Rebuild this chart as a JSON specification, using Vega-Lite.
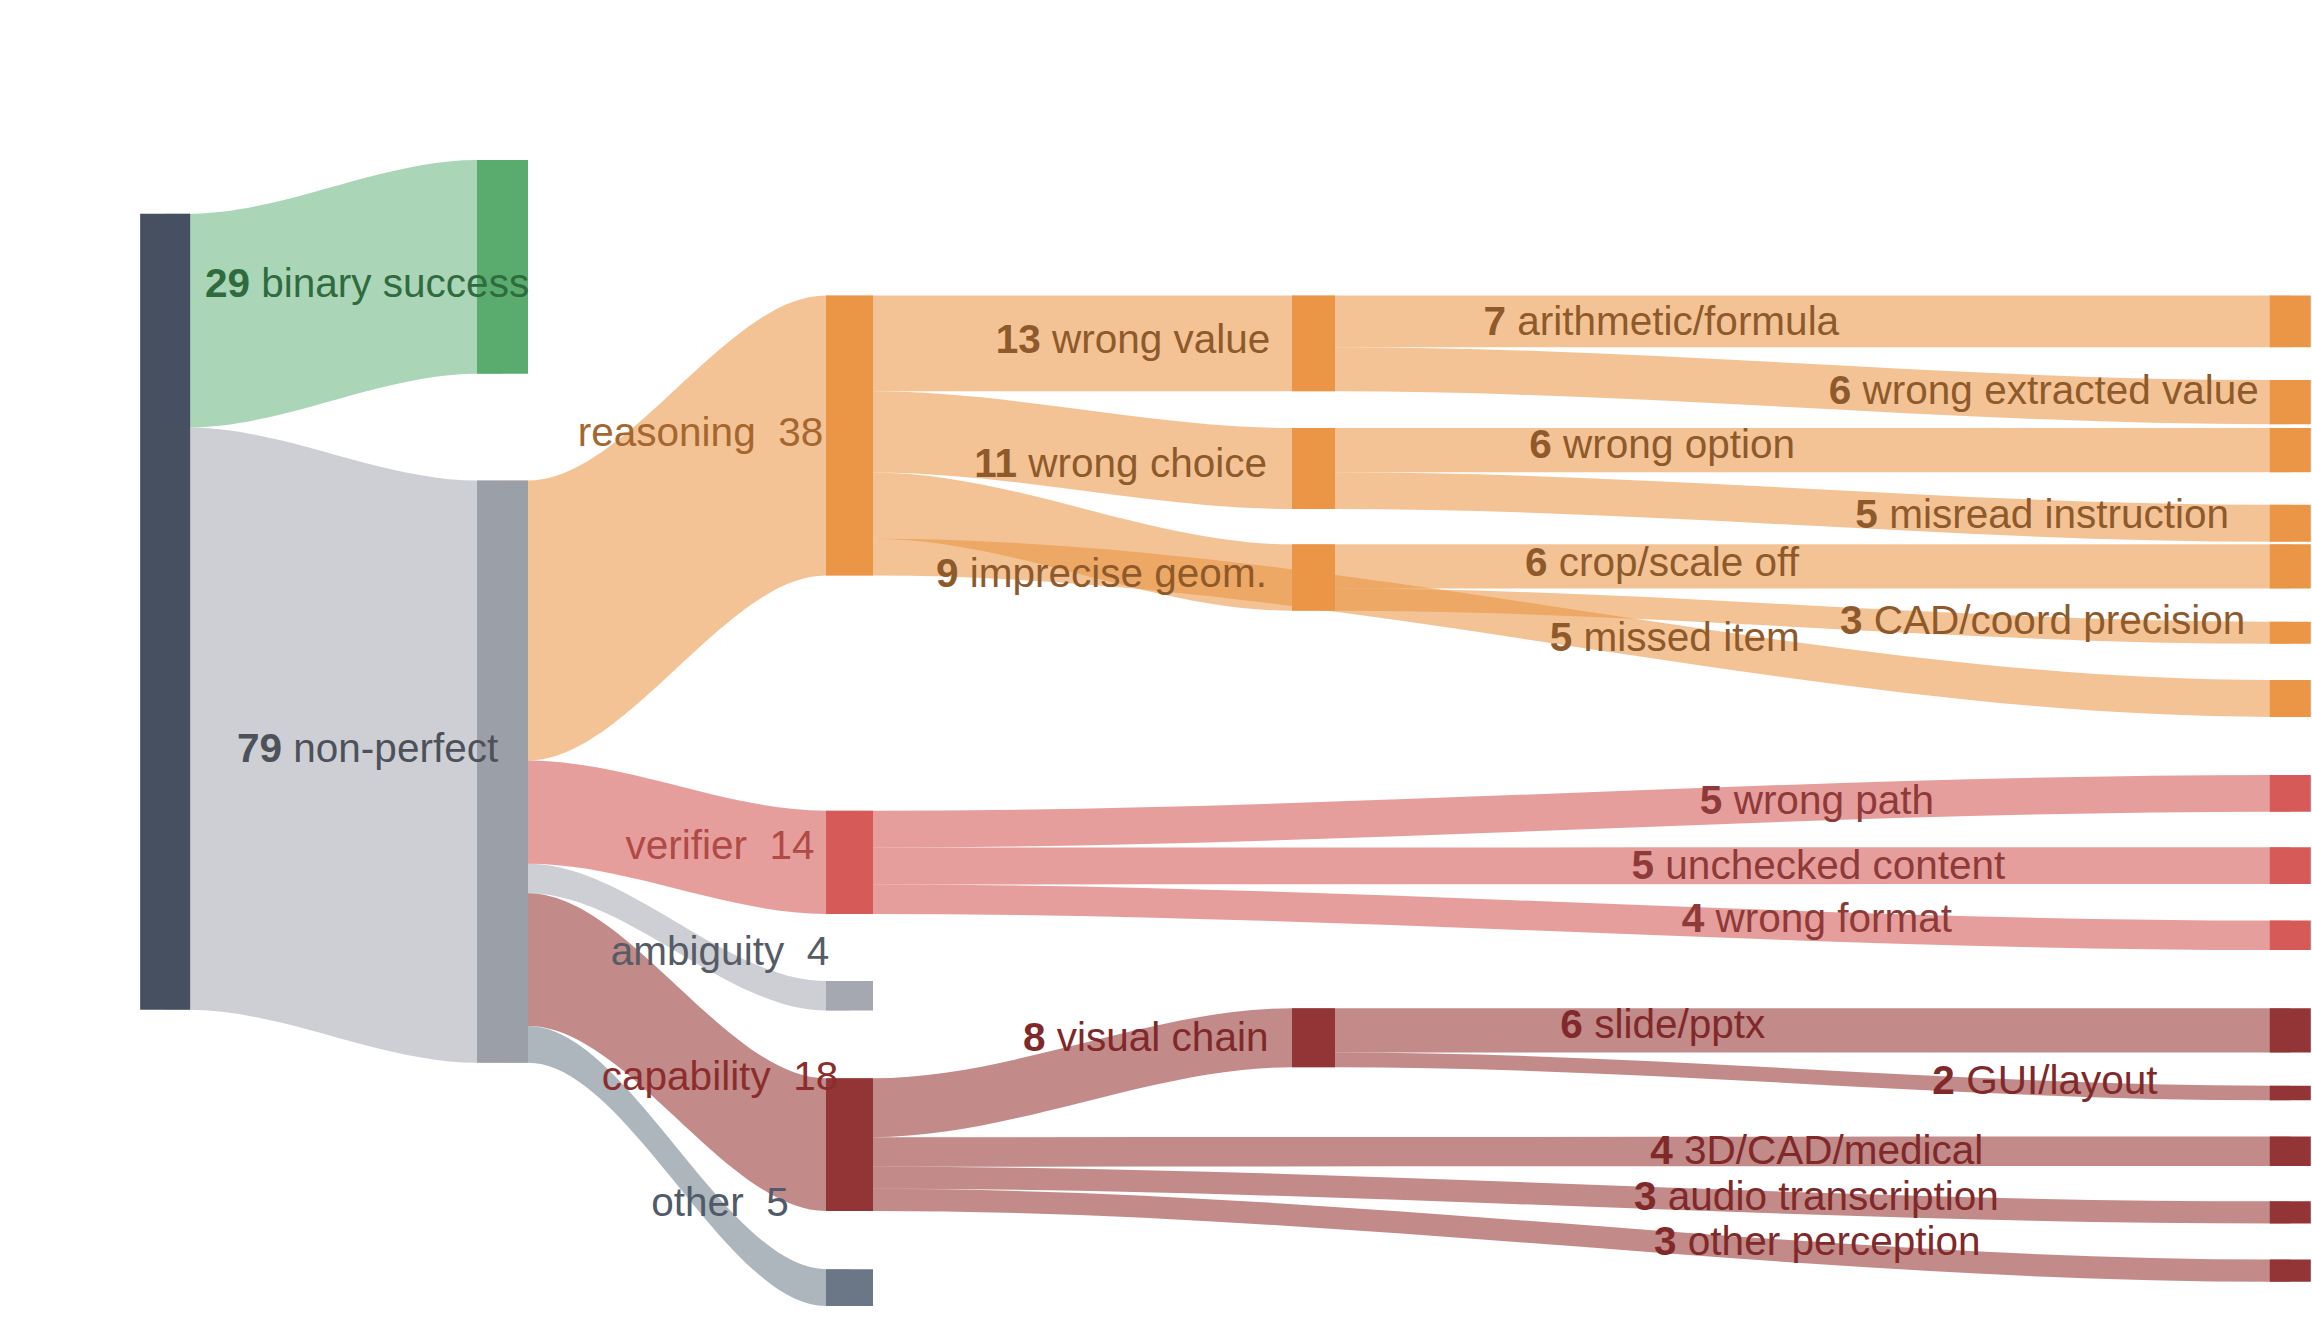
{
  "$schema": "https://vega.github.io/schema/vega-lite/v6.json",
  "width": 2312,
  "height": 1320,
  "autosize": {"type": "fit", "contains": "padding"},
  "padding": 0,
  "background": "white",
  "config": {
    "view": {"stroke": null},
    "text": {"font": "Liberation Sans", "fontSize": 40.5, "baseline": "alphabetic"}
  },
  "datasets": {
    "links": [
      {"link": "success", "group": "success", "col": [0, 0.1, 0.9, 1], "lo": [29, 29, 21.7, 21.7], "hi": [58, 58, 50.7, 50.7]},
      {"link": "nonperfect", "group": "nonperfect", "col": [0, 0.1, 0.9, 1], "lo": [58, 58, 65.2, 65.2], "hi": [137, 137, 144.2, 144.2]},
      {"link": "reasoning", "group": "reasoning", "col": [1, 1.1, 1.9, 2], "lo": [65.2, 65.2, 40.1, 40.1], "hi": [103.2, 103.2, 78.1, 78.1]},
      {"link": "verifier", "group": "verifier", "col": [1, 1.1, 1.9, 2], "lo": [103.2, 103.2, 110, 110], "hi": [117.2, 117.2, 124, 124]},
      {"link": "ambiguity", "group": "ambiguity", "col": [1, 1.1, 1.9, 2], "lo": [117.2, 117.2, 133.1, 133.1], "hi": [121.2, 121.2, 137.1, 137.1]},
      {"link": "capability", "group": "capability", "col": [1, 1.1, 1.9, 2], "lo": [121.2, 121.2, 146.3, 146.3], "hi": [139.2, 139.2, 164.3, 164.3]},
      {"link": "other", "group": "other", "col": [1, 1.1, 1.9, 2], "lo": [139.2, 139.2, 172.2, 172.2], "hi": [144.2, 144.2, 177.2, 177.2]},
      {"link": "wrong value", "group": "reasoning", "col": [2, 2.1, 2.9, 3], "lo": [40.1, 40.1, 40.1, 40.1], "hi": [53.1, 53.1, 53.1, 53.1]},
      {"link": "wrong choice", "group": "reasoning", "col": [2, 2.1, 2.9, 3], "lo": [53.1, 53.1, 58.07, 58.07], "hi": [64.1, 64.1, 69.07, 69.07]},
      {"link": "imprecise geom.", "group": "reasoning", "col": [2, 2.1, 2.9, 3], "lo": [64.1, 64.1, 73.86, 73.86], "hi": [73.1, 73.1, 82.86, 82.86]},
      {"link": "missed item", "group": "reasoning", "col": [2, 2.1, 3.9, 4], "lo": [73.1, 73.1, 92.27, 92.27], "hi": [78.1, 78.1, 97.27, 97.27]},
      {"link": "arithmetic/formula", "group": "reasoning", "col": [3, 3.1, 3.9, 4], "lo": [40.1, 40.1, 40.1, 40.1], "hi": [47.1, 47.1, 47.1, 47.1]},
      {"link": "wrong extracted value", "group": "reasoning", "col": [3, 3.1, 3.9, 4], "lo": [47.1, 47.1, 51.56, 51.56], "hi": [53.1, 53.1, 57.56, 57.56]},
      {"link": "wrong option", "group": "reasoning", "col": [3, 3.1, 3.9, 4], "lo": [58.07, 58.07, 58.07, 58.07], "hi": [64.07, 64.07, 64.07, 64.07]},
      {"link": "misread instruction", "group": "reasoning", "col": [3, 3.1, 3.9, 4], "lo": [64.07, 64.07, 68.5, 68.5], "hi": [69.07, 69.07, 73.5, 73.5]},
      {"link": "crop/scale off", "group": "reasoning", "col": [3, 3.1, 3.9, 4], "lo": [73.86, 73.86, 73.86, 73.86], "hi": [79.86, 79.86, 79.86, 79.86]},
      {"link": "CAD/coord precision", "group": "reasoning", "col": [3, 3.1, 3.9, 4], "lo": [79.86, 79.86, 84.35, 84.35], "hi": [82.86, 82.86, 87.35, 87.35]},
      {"link": "wrong path", "group": "verifier", "col": [2, 2.1, 3.9, 4], "lo": [110, 110, 105.14, 105.14], "hi": [115, 115, 110.14, 110.14]},
      {"link": "unchecked content", "group": "verifier", "col": [2, 2.1, 3.9, 4], "lo": [115, 115, 114.95, 114.95], "hi": [120, 120, 119.95, 119.95]},
      {"link": "wrong format", "group": "verifier", "col": [2, 2.1, 3.9, 4], "lo": [120, 120, 124.9, 124.9], "hi": [124, 124, 128.9, 128.9]},
      {"link": "visual chain", "group": "capability", "col": [2, 2.1, 2.9, 3], "lo": [146.3, 146.3, 136.8, 136.8], "hi": [154.3, 154.3, 144.8, 144.8]},
      {"link": "3D/CAD/medical", "group": "capability", "col": [2, 2.1, 3.9, 4], "lo": [154.3, 154.3, 154.2, 154.2], "hi": [158.3, 158.3, 158.2, 158.2]},
      {"link": "audio transcription", "group": "capability", "col": [2, 2.1, 3.9, 4], "lo": [158.3, 158.3, 163, 163], "hi": [161.3, 161.3, 166, 166]},
      {"link": "other perception", "group": "capability", "col": [2, 2.1, 3.9, 4], "lo": [161.3, 161.3, 170.9, 170.9], "hi": [164.3, 164.3, 173.9, 173.9]},
      {"link": "slide/pptx", "group": "capability", "col": [3, 3.1, 3.9, 4], "lo": [136.8, 136.8, 136.8, 136.8], "hi": [142.8, 142.8, 142.8, 142.8]},
      {"link": "GUI/layout", "group": "capability", "col": [3, 3.1, 3.9, 4], "lo": [142.8, 142.8, 147.3, 147.3], "hi": [144.8, 144.8, 149.3, 149.3]}
    ],
    "nodes": [
      {"node": "all", "group": "root", "col": 0, "y0": 29, "y1": 137},
      {"node": "binary success", "group": "success", "col": 1, "y0": 21.7, "y1": 50.7},
      {"node": "non-perfect", "group": "nonperfect", "col": 1, "y0": 65.2, "y1": 144.2},
      {"node": "reasoning", "group": "reasoning", "col": 2, "y0": 40.1, "y1": 78.1},
      {"node": "verifier", "group": "verifier", "col": 2, "y0": 110, "y1": 124},
      {"node": "ambiguity", "group": "ambiguity", "col": 2, "y0": 133.1, "y1": 137.1},
      {"node": "capability", "group": "capability", "col": 2, "y0": 146.3, "y1": 164.3},
      {"node": "other", "group": "other", "col": 2, "y0": 172.2, "y1": 177.2},
      {"node": "wrong value", "group": "reasoning", "col": 3, "y0": 40.1, "y1": 53.1},
      {"node": "wrong choice", "group": "reasoning", "col": 3, "y0": 58.07, "y1": 69.07},
      {"node": "imprecise geom.", "group": "reasoning", "col": 3, "y0": 73.86, "y1": 82.86},
      {"node": "visual chain", "group": "capability", "col": 3, "y0": 136.8, "y1": 144.8},
      {"node": "arithmetic/formula", "group": "reasoning", "col": 4, "y0": 40.1, "y1": 47.1},
      {"node": "wrong extracted value", "group": "reasoning", "col": 4, "y0": 51.56, "y1": 57.56},
      {"node": "wrong option", "group": "reasoning", "col": 4, "y0": 58.07, "y1": 64.07},
      {"node": "misread instruction", "group": "reasoning", "col": 4, "y0": 68.5, "y1": 73.5},
      {"node": "crop/scale off", "group": "reasoning", "col": 4, "y0": 73.86, "y1": 79.86},
      {"node": "CAD/coord precision", "group": "reasoning", "col": 4, "y0": 84.35, "y1": 87.35},
      {"node": "missed item", "group": "reasoning", "col": 4, "y0": 92.27, "y1": 97.27},
      {"node": "wrong path", "group": "verifier", "col": 4, "y0": 105.14, "y1": 110.14},
      {"node": "unchecked content", "group": "verifier", "col": 4, "y0": 114.95, "y1": 119.95},
      {"node": "wrong format", "group": "verifier", "col": 4, "y0": 124.9, "y1": 128.9},
      {"node": "slide/pptx", "group": "capability", "col": 4, "y0": 136.8, "y1": 142.8},
      {"node": "GUI/layout", "group": "capability", "col": 4, "y0": 147.3, "y1": 149.3},
      {"node": "3D/CAD/medical", "group": "capability", "col": 4, "y0": 154.2, "y1": 158.2},
      {"node": "audio transcription", "group": "capability", "col": 4, "y0": 163, "y1": 166},
      {"node": "other perception", "group": "capability", "col": 4, "y0": 170.9, "y1": 173.9}
    ],
    "flowLabels": [
      {"num": "29", "name": "binary success", "group": "success", "at": 0.2716, "y": 40.26},
      {"num": "79", "name": "non-perfect", "group": "nonperfect", "at": 0.3602, "y": 103.35},
      {"num": "13", "name": "wrong value", "group": "reasoning", "at": 2.4202, "y": 47.86},
      {"num": "11", "name": "wrong choice", "group": "reasoning", "at": 2.375, "y": 64.76},
      {"num": "9", "name": "imprecise geom.", "group": "reasoning", "at": 2.2632, "y": 79.6},
      {"num": "8", "name": "visual chain", "group": "capability", "at": 2.4294, "y": 142.56},
      {"num": "7", "name": "arithmetic/formula", "group": "reasoning", "at": 3.246, "y": 45.45},
      {"num": "6", "name": "wrong extracted value", "group": "reasoning", "at": 3.5408, "y": 54.82},
      {"num": "6", "name": "wrong option", "group": "reasoning", "at": 3.2851, "y": 62.19},
      {"num": "5", "name": "misread instruction", "group": "reasoning", "at": 3.5635, "y": 71.68},
      {"num": "6", "name": "crop/scale off", "group": "reasoning", "at": 3.2814, "y": 78.11},
      {"num": "3", "name": "CAD/coord precision", "group": "reasoning", "at": 3.5504, "y": 86.02},
      {"num": "5", "name": "missed item", "group": "reasoning", "at": 3.3026, "y": 88.29},
      {"num": "5", "name": "wrong path", "group": "verifier", "at": 3.4307, "y": 110.45},
      {"num": "5", "name": "unchecked content", "group": "verifier", "at": 3.3724, "y": 119.28},
      {"num": "4", "name": "wrong format", "group": "verifier", "at": 3.4153, "y": 126.51},
      {"num": "6", "name": "slide/pptx", "group": "capability", "at": 3.3116, "y": 140.81},
      {"num": "2", "name": "GUI/layout", "group": "capability", "at": 3.6292, "y": 148.44},
      {"num": "4", "name": "3D/CAD/medical", "group": "capability", "at": 3.3883, "y": 157.88},
      {"num": "3", "name": "audio transcription", "group": "capability", "at": 3.3745, "y": 164.15},
      {"num": "3", "name": "other perception", "group": "capability", "at": 3.3916, "y": 170.33}
    ],
    "categoryLabels": [
      {"label": "reasoning\u00a0\u00a038", "group": "reasoning", "at": 1.5631, "y": 60.47},
      {"label": "verifier\u00a0\u00a014", "group": "verifier", "at": 1.6154, "y": 116.49},
      {"label": "ambiguity\u00a0\u00a04", "group": "ambiguity", "at": 1.6154, "y": 130.92},
      {"label": "capability\u00a0\u00a018", "group": "capability", "at": 1.6154, "y": 147.88},
      {"label": "other\u00a0\u00a05", "group": "other", "at": 1.6154, "y": 164.94}
    ]
  },
  "layer": [
    {
      "data": {"name": "links"},
      "transform": [{"flatten": ["col", "lo", "hi"]}],
      "mark": {"type": "area", "interpolate": "monotone", "opacity": 0.55},
      "encoding": {
        "x": {"field": "col", "type": "quantitative", "axis": null,
              "scale": {"domain": [0, 0.1, 0.9, 1, 1.1, 1.9, 2, 2.1, 2.9, 3, 3.1, 3.9, 4], "range": [163, 188, 477, 502.5, 528, 826, 849.5, 873, 1292, 1313.5, 1335, 2272, 2292], "nice": false, "zero": false}},
        "y": {"field": "lo", "type": "quantitative", "axis": null, "stack": null,
              "scale": {"domain": [0, 179.1], "reverse": true, "nice": false, "zero": false}},
        "y2": {"field": "hi"},
        "detail": {"field": "link"},
        "color": {"field": "group", "type": "nominal", "legend": null,
                  "scale": {"domain": ["success", "nonperfect", "reasoning", "verifier", "ambiguity", "capability", "other"],
                            "range": ["#66b37c", "#a4a8b1", "#e9923e", "#d24f4b", "#a4a8b1", "#902a27", "#6a7887"]}}
      }
    },
    {
      "data": {"name": "nodes"},
      "mark": {"type": "bar"},
      "encoding": {
        "x": {"field": "col", "type": "quantitative", "axis": null,
              "scale": {"domain": [0, 0.1, 0.9, 1, 1.1, 1.9, 2, 2.1, 2.9, 3, 3.1, 3.9, 4], "range": [163, 188, 477, 502.5, 528, 826, 849.5, 873, 1292, 1313.5, 1335, 2272, 2292], "nice": false, "zero": false}},
        "y": {"field": "y0", "type": "quantitative", "axis": null,
              "scale": {"domain": [0, 179.1], "reverse": true, "nice": false, "zero": false}},
        "y2": {"field": "y1"},
        "size": {"field": "col", "type": "quantitative", "legend": null,
                 "scale": {"domain": [0, 1, 2, 3, 4], "range": [50, 51, 47, 43, 41], "zero": false, "nice": false}},
        "color": {"field": "group", "type": "nominal", "legend": null,
                  "scale": {"domain": ["root", "success", "nonperfect", "reasoning", "verifier", "ambiguity", "capability", "other"],
                            "range": ["#465060", "#5aab6e", "#9b9fa8", "#eb9647", "#d65a57", "#a5a8b1", "#933537", "#6b7787"]}}
      }
    },
    {
      "data": {"name": "categoryLabels"},
      "mark": {"type": "text", "align": "center"},
      "encoding": {
        "x": {"field": "at", "type": "quantitative", "axis": null,
              "scale": {"domain": [0, 0.1, 0.9, 1, 1.1, 1.9, 2, 2.1, 2.9, 3, 3.1, 3.9, 4], "range": [163, 188, 477, 502.5, 528, 826, 849.5, 873, 1292, 1313.5, 1335, 2272, 2292], "nice": false, "zero": false}},
        "y": {"field": "y", "type": "quantitative", "axis": null,
              "scale": {"domain": [0, 179.1], "reverse": true, "nice": false, "zero": false}},
        "text": {"field": "label"},
        "color": {"field": "group", "type": "nominal", "legend": null,
                  "scale": {"domain": ["reasoning", "verifier", "ambiguity", "capability", "other"],
                            "range": ["#a5672f", "#b04a47", "#565c66", "#8c2d2d", "#505a68"]}}
      }
    },
    {
      "data": {"name": "flowLabels"},
      "mark": {"type": "text", "align": "right", "fontWeight": "bold"},
      "encoding": {
        "x": {"field": "at", "type": "quantitative", "axis": null,
              "scale": {"domain": [0, 0.1, 0.9, 1, 1.1, 1.9, 2, 2.1, 2.9, 3, 3.1, 3.9, 4], "range": [163, 188, 477, 502.5, 528, 826, 849.5, 873, 1292, 1313.5, 1335, 2272, 2292], "nice": false, "zero": false}},
        "y": {"field": "y", "type": "quantitative", "axis": null,
              "scale": {"domain": [0, 179.1], "reverse": true, "nice": false, "zero": false}},
        "text": {"field": "num"},
        "color": {"field": "group", "type": "nominal", "legend": null,
                  "scale": {"domain": ["success", "nonperfect", "reasoning", "verifier", "capability"],
                            "range": ["#2f6b3f", "#4d5159", "#8e5a2b", "#8e3a39", "#80292a"]}}
      }
    },
    {
      "data": {"name": "flowLabels"},
      "mark": {"type": "text", "align": "left", "dx": 11.3},
      "encoding": {
        "x": {"field": "at", "type": "quantitative", "axis": null,
              "scale": {"domain": [0, 0.1, 0.9, 1, 1.1, 1.9, 2, 2.1, 2.9, 3, 3.1, 3.9, 4], "range": [163, 188, 477, 502.5, 528, 826, 849.5, 873, 1292, 1313.5, 1335, 2272, 2292], "nice": false, "zero": false}},
        "y": {"field": "y", "type": "quantitative", "axis": null,
              "scale": {"domain": [0, 179.1], "reverse": true, "nice": false, "zero": false}},
        "text": {"field": "name"},
        "color": {"field": "group", "type": "nominal", "legend": null,
                  "scale": {"domain": ["success", "nonperfect", "reasoning", "verifier", "capability"],
                            "range": ["#2f6b3f", "#4d5159", "#8e5a2b", "#8e3a39", "#80292a"]}}
      }
    }
  ],
  "resolve": {"scale": {"color": "independent", "size": "independent"}}
}
